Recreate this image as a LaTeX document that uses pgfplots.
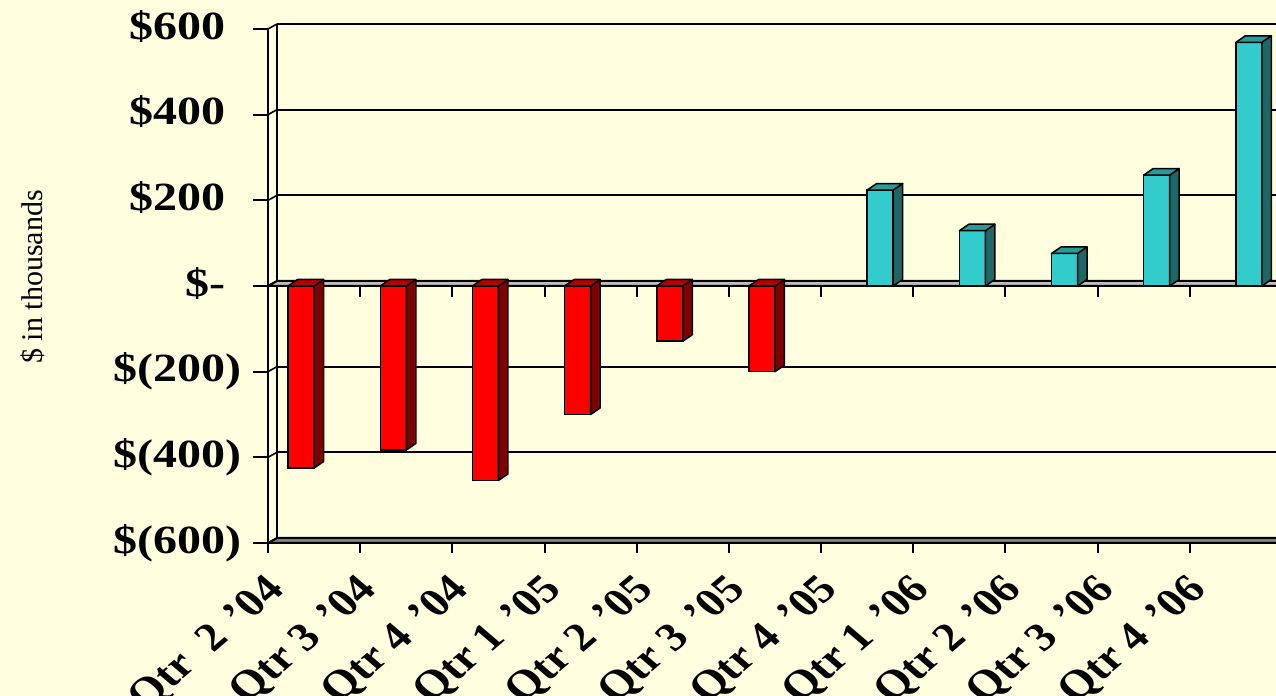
\documentclass[border=0pt]{standalone}
\usepackage{fontspec}
\setmainfont{Liberation Serif}
\newfontface\ytickfont[FakeStretch=1.2]{Liberation Serif Bold}
\newfontface\xtickfont{Liberation Serif Bold}
\usepackage{pgfplots}
\pgfplotsset{compat=1.18}
\definecolor{bgc}{RGB}{255,255,224}
\definecolor{redfront}{RGB}{255,0,0}
\definecolor{redside}{RGB}{128,0,0}
\definecolor{redtop}{RGB}{176,0,0}
\definecolor{cyfront}{RGB}{51,204,204}
\definecolor{cyside}{RGB}{31,102,102}
\definecolor{cytop}{RGB}{41,153,153}
\definecolor{floorc}{RGB}{128,128,128}
\definecolor{zeroc}{RGB}{190,190,180}
\def\yu{0.2141667}
\def\cdx{4.75}
\def\cdy{3.25}
\def\ap{\kern2pt’}
\tikzset{bk/.style={shift={(4.5pt,2.5pt)}}}
\pgfplotsset{
 cube/.style n args={3}{
   scatter, only marks, mark=*, mark size=0pt,
   visualization depends on={rawy \as \ry},
   scatter/@pre marker code/.code={%
     \pgfmathsetmacro\cbH{\ry*\yu}%
     \pgfmathsetmacro\cbZ{-1*(\cbH)}%
     \pgfmathsetmacro\cbZb{-1*(\cbH)+\cdy}%
     \pgfmathsetmacro\cbT{max(0,-1*(\cbH))}%
     \pgfmathsetmacro\cbTb{\cbT+\cdy}%
     \pgfmathsetmacro\cbR{#1+6.5}%
     \pgfmathsetmacro\cbL{#1-6.5}%
     \pgfmathsetmacro\cbRR{\cbR+\cdx}%
     \pgfmathsetmacro\cbLR{\cbL+\cdx}%
     \filldraw[fill=#2,draw=black,line width=0.75pt,line join=round] (\cbR pt,0pt) -- (\cbRR pt,\cdy pt) -- (\cbRR pt,\cbZb pt) -- (\cbR pt,\cbZ pt) -- cycle;
     \filldraw[fill=#3,draw=black,line width=0.75pt,line join=round] (\cbL pt,\cbT pt) -- (\cbR pt,\cbT pt) -- (\cbRR pt,\cbTb pt) -- (\cbLR pt,\cbTb pt) -- cycle;
     \pgfscope\pgfsetfillopacity{0}\pgfsetstrokeopacity{0}%
   },
   scatter/@post marker code/.code={\endpgfscope},
 }
}
\begin{document}
\begin{tikzpicture}
\fill[bgc] (-134pt,-76.5pt) rectangle (504pt,271.5pt);
\begin{axis}[
  at={(0pt,0pt)}, anchor=south west,
  scale only axis, width=507pt, height=257pt,
  xmin=-0.5, xmax=10.5, ymin=-600, ymax=600,
  axis x line*=bottom, axis y line*=left,
  axis line style={line width=1.3pt, black},
  xtick={0,...,10},
  xticklabels={Qtr~~2 \ap04,Qtr 3 \ap04,Qtr 4 \ap04,Qtr 1 \ap05,Qtr 2 \ap05,Qtr 3 \ap05,Qtr 4 \ap05,Qtr 1 \ap06,Qtr 2 \ap06,Qtr 3 \ap06,Qtr 4 \ap06},
  xtick style={draw=none},
  ytick={-600,-400,-200,0,200,400,600},
  yticklabels={\$(600),\$(400),\$(200),\$-\phantom{)},\$200\phantom{)},\$400\phantom{)},\$600\phantom{)}},
  tick align=outside, major tick length=7.5pt,
  ytick style={line width=1pt, black},
  yticklabel style={font=\fontsize{20}{24}\selectfont\ytickfont, inner sep=0pt, xshift=-5.5pt},
  xticklabel style={font=\fontsize{20}{24}\selectfont\xtickfont, inner sep=0pt, xshift=-18pt, yshift=-13pt, xscale=1.17, rotate=45, anchor=east},
  ylabel={\$ in thousands},
  every axis y label/.style={at={(axis description cs:-0.2318,0.5175)}, rotate=90, anchor=center, font=\fontsize{15}{18}\selectfont},
  clip=false,
]
% floor
\filldraw[fill=floorc, draw=black, line width=1pt] (axis cs:-0.5,-600) -- (axis cs:10.5,-600) -- ([bk]axis cs:10.5,-600) -- ([bk]axis cs:-0.5,-600) -- cycle;
% back wall grid
\pgfplotsinvokeforeach{-400,-200,200,400,600}{\draw[line width=0.9pt] ([bk]axis cs:-0.5,#1) -- ([bk]axis cs:10.5,#1);}
\draw[line width=1.1pt] ([bk]axis cs:-0.5,-600) -- ([bk]axis cs:-0.5,600);
\pgfplotsinvokeforeach{-600,-400,-200,0,200,400,600}{\draw[line width=0.8pt] (axis cs:-0.5,#1) -- ([bk]axis cs:-0.5,#1);}
% zero plane
\filldraw[fill=zeroc, draw=black, line width=1pt] (axis cs:-0.5,0) -- (axis cs:10.5,0) -- ([bk]axis cs:10.5,0) -- ([bk]axis cs:-0.5,0) -- cycle;
% category ticks
\pgfplotsinvokeforeach{-0.5,0.5,1.5,2.5,3.5,4.5,5.5,6.5,7.5,8.5,9.5,10.5}{\draw[line width=1pt] (axis cs:#1,0) -- ([yshift=-5.5pt]axis cs:#1,0); \draw[line width=1pt] (axis cs:#1,-600) -- ([yshift=-5pt]axis cs:#1,-600);}
% bars
\addplot[ybar, bar width=13pt, bar shift=-6.5pt, fill=redfront, draw=black, line width=0.75pt] coordinates {(0,-425) (1,-383) (2,-454) (3,-300) (4,-129) (5,-200)};
\addplot[cube={-6.5}{redside}{redtop}] coordinates {(0,-425) (1,-383) (2,-454) (3,-300) (4,-129) (5,-200)};
\addplot[ybar, bar width=13pt, bar shift=6.5pt, fill=cyfront, draw=black, line width=0.75pt] coordinates {(6,224) (7,129) (8,76) (9,259) (10,569)};
\addplot[cube={6.5}{cyside}{cytop}] coordinates {(6,224) (7,129) (8,76) (9,259) (10,569)};
\end{axis}
\pgfresetboundingbox
\path (-134pt,-76.5pt) rectangle (504pt,271.5pt);
\end{tikzpicture}
\end{document}
